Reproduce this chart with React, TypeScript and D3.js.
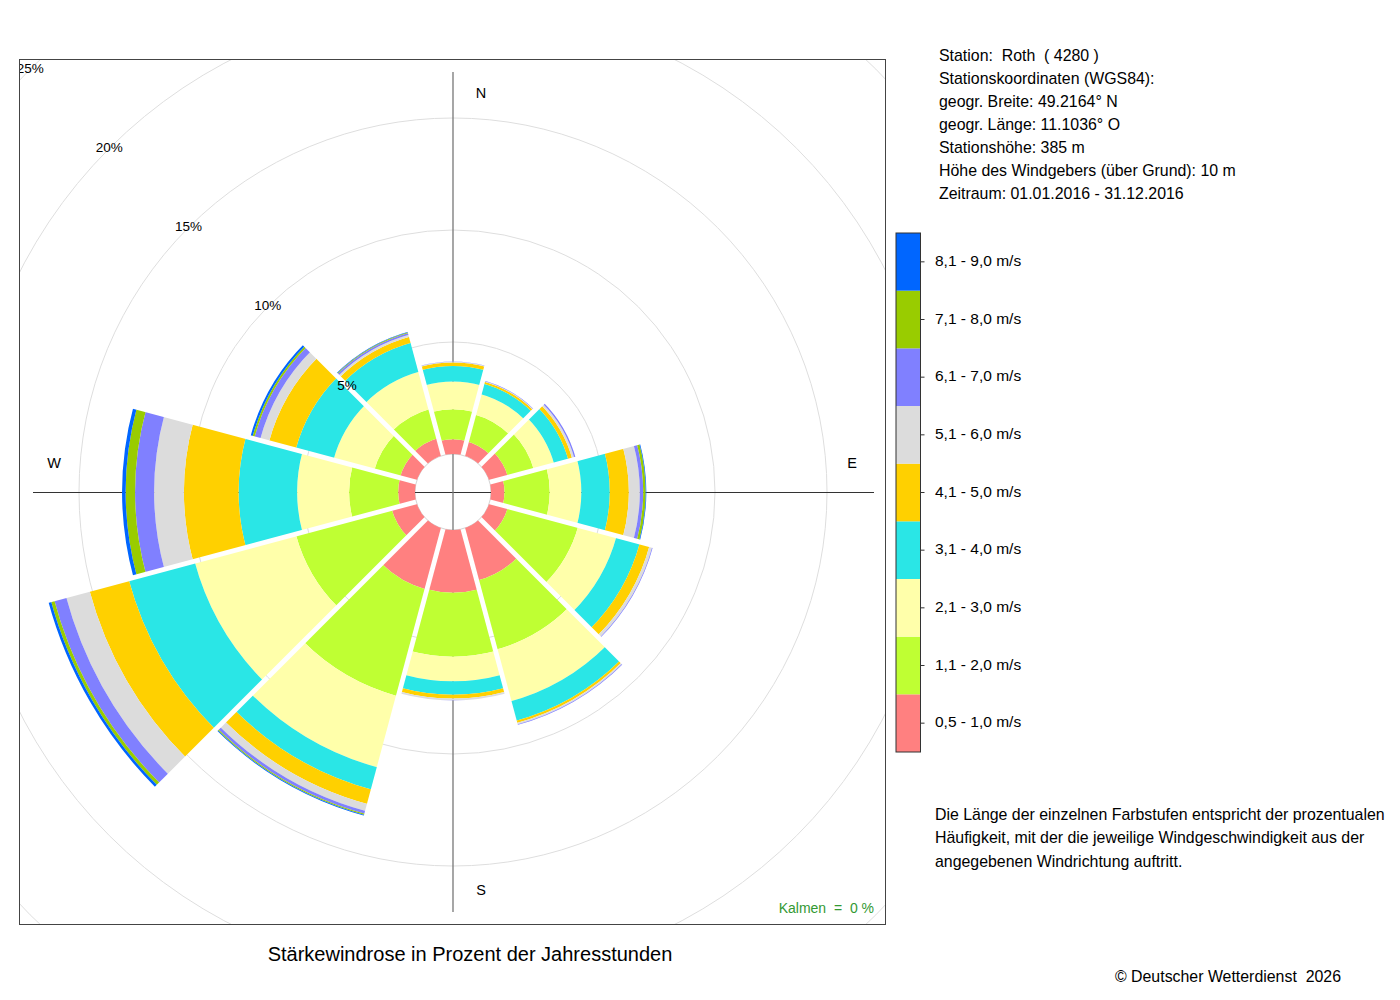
import * as d3 from 'd3'

// wind directions (sector centres, degrees clockwise from north)
const DIRECTIONS = [0, 30, 60, 90, 120, 150, 180, 210, 240, 270, 300, 330]

const SPEED_CLASSES = [
  '0,5 - 1,0 m/s',
  '1,1 - 2,0 m/s',
  '2,1 - 3,0 m/s',
  '3,1 - 4,0 m/s',
  '4,1 - 5,0 m/s',
  '5,1 - 6,0 m/s',
  '6,1 - 7,0 m/s',
  '7,1 - 8,0 m/s',
  '8,1 - 9,0 m/s',
]

const CLASS_COLORS = ['#ff8080', '#bfff33', '#ffffaa', '#2ae6e6', '#ffd000', '#dcdcdc', '#8080ff', '#99cc00', '#0066ff']

// frequency in % of year hours, per speed class, per direction (same order as DIRECTIONS)
const FREQ_05_10 = [0.66, 0.65, 0.85, 0.6, 0.85, 2.41, 2.8, 2.82, 1.15, 0.75, 0.76, 0.8]
const FREQ_11_20 = [1.34, 1.25, 1.2, 2.02, 3.25, 3.19, 2.85, 4.93, 4.42, 2.19, 1.19, 1.35]
const FREQ_21_30 = [1.23, 0.95, 0.94, 1.41, 1.77, 2.4, 1.1, 3.3, 4.68, 2.32, 1.88, 1.73]
const FREQ_31_40 = [0.7, 0.48, 0.66, 1.27, 1.08, 0.9, 0.6, 1.03, 3.05, 2.61, 1.75, 1.34]
const FREQ_41_50 = [0.15, 0.09, 0.18, 0.85, 0.45, 0.1, 0.17, 0.67, 1.82, 2.44, 1.24, 0.28]
const FREQ_51_60 = [0.04, 0.03, 0.1, 0.49, 0.13, 0.07, 0.08, 0.32, 1.08, 1.33, 0.41, 0.1]
const FREQ_61_70 = [0.01, 0.02, 0.06, 0.15, 0.03, 0.03, 0.01, 0.13, 0.55, 0.85, 0.27, 0.08]
const FREQ_71_80 = [0, 0, 0, 0.11, 0, 0, 0, 0.05, 0.15, 0.42, 0.09, 0.03]
const FREQ_81_90 = [0, 0, 0, 0.03, 0, 0, 0, 0.04, 0.12, 0.16, 0.09, 0.02]

const SERIES = [FREQ_05_10, FREQ_11_20, FREQ_21_30, FREQ_31_40, FREQ_41_50, FREQ_51_60, FREQ_61_70, FREQ_71_80, FREQ_81_90]

const RING_TICKS = [5, 10, 15, 20, 25]
const COMPASS = [
  { label: 'N', dx: 28, dy: -398 },
  { label: 'E', dx: 399, dy: -28 },
  { label: 'S', dx: 28, dy: 399 },
  { label: 'W', dx: -399, dy: -28 },
]

const STATION_INFO = [
  'Station:  Roth  ( 4280 )',
  'Stationskoordinaten (WGS84):',
  'geogr. Breite: 49.2164° N',
  'geogr. Länge: 11.1036° O',
  'Stationshöhe: 385 m',
  'Höhe des Windgebers (über Grund): 10 m',
  'Zeitraum: 01.01.2016 - 31.12.2016',
]

const NOTE = [
  'Die Länge der einzelnen Farbstufen entspricht der prozentualen',
  'Häufigkeit, mit der die jeweilige Windgeschwindigkeit aus der',
  'angegebenen Windrichtung auftritt.',
]

const FONT = "'Liberation Sans', Arial, Helvetica, sans-serif"
const CX = 453
const CY = 492
const BOX = { x: 19.5, y: 59.5, w: 866, h: 865 }
const HALF = Math.PI / 12
const GAP = 4.8
const AXIS_LEN = 420

const rScale = d3.scaleLinear().domain([0, 25]).range([38, 598])
const rad = (deg: number) => (deg * Math.PI) / 180

// wedge clip: a triangle whose sides are the sector borders pulled inward by GAP/2
function sectorClip(theta: number) {
  const d = GAP / 2 / Math.sin(HALF)
  const ax = d * Math.sin(theta)
  const ay = -d * Math.cos(theta)
  const L = 900
  const a1 = theta - HALF
  const a2 = theta + HALF
  return `${ax},${ay} ${ax + L * Math.sin(a1)},${ay - L * Math.cos(a1)} ${ax + L * Math.sin(a2)},${ay - L * Math.cos(a2)}`
}

export default function App() {
  const keys = SPEED_CLASSES.map((_, i) => `c${i}`)
  const rows = DIRECTIONS.map((dir, j) => {
    const row: Record<string, number> = { dir }
    SERIES.forEach((s, i) => (row[`c${i}`] = s[j]))
    return row
  })
  const stacked = d3.stack<Record<string, number>>().keys(keys)(rows)
  const arc = d3.arc<any>()

  // legend
  const LEG = { x: 896, y: 233, w: 24.5, h: 519 }
  const legY = d3
    .scaleBand<number>()
    .domain(d3.range(SPEED_CLASSES.length).reverse())
    .range([LEG.y, LEG.y + LEG.h])

  return (
    <svg
      width={1400}
      height={1000}
      style={{ position: 'absolute', left: 0, top: 0, background: '#fff' }}
      fontFamily={FONT}
    >
      <defs>
        <clipPath id="plot-box">
          <rect x={BOX.x} y={BOX.y} width={BOX.w} height={BOX.h} />
        </clipPath>
        {DIRECTIONS.map((dir, j) => (
          <clipPath key={dir} id={`sec-${j}`}>
            <polygon points={sectorClip(rad(dir))} />
          </clipPath>
        ))}
      </defs>

      <g clipPath="url(#plot-box)">
        <g transform={`translate(${CX},${CY})`}>
          {RING_TICKS.map((t) => (
            <circle key={t} r={rScale(t)} fill="none" stroke="#dedede" strokeWidth={1} />
          ))}
          <circle r={rScale(0)} fill="#fff" stroke="#d4d4d4" strokeWidth={1} />
          <line x1={-AXIS_LEN} x2={AXIS_LEN + 1} y1={0.5} y2={0.5} stroke="#333" strokeWidth={1} />
          <line x1={0} x2={0} y1={-AXIS_LEN} y2={AXIS_LEN} stroke="#777" strokeWidth={1.3} />

          {DIRECTIONS.map((dir, j) => (
            <g key={dir} clipPath={`url(#sec-${j})`}>
              {stacked.map((layer, i) => {
                const [lo, hi] = layer[j]
                if (hi - lo <= 0) return null
                return (
                  <path
                    key={i}
                    d={arc({
                      innerRadius: rScale(lo),
                      outerRadius: rScale(hi),
                      startAngle: rad(dir) - HALF,
                      endAngle: rad(dir) + HALF,
                    })!}
                    fill={CLASS_COLORS[i]}
                  />
                )
              })}
            </g>
          ))}

          {RING_TICKS.map((t) => {
            const rr = rScale(t) * Math.SQRT1_2
            return (
              <text key={t} x={-rr} y={-rr} fontSize={13.5} textAnchor="middle" dominantBaseline="middle" fill="#000">
                {t}%
              </text>
            )
          })}

          {COMPASS.map((c) => (
            <text key={c.label} x={c.dx} y={c.dy} fontSize={14.5} textAnchor="middle" dominantBaseline="middle" fill="#000">
              {c.label}
            </text>
          ))}
        </g>
      </g>

      <rect x={BOX.x} y={BOX.y} width={BOX.w} height={BOX.h} fill="none" stroke="#444" strokeWidth={1} />

      <text x={874} y={913} fontSize={14} textAnchor="end" fill="#339933" style={{ whiteSpace: 'pre' }}>
        {'Kalmen  =  0 %'}
      </text>

      <text x={470} y={961} fontSize={20} textAnchor="middle" fill="#000">
        Stärkewindrose in Prozent der Jahresstunden
      </text>

      {STATION_INFO.map((line, i) => (
        <text key={i} x={939} y={60.5 + i * 23.1} fontSize={15.9} fill="#000" style={{ whiteSpace: 'pre' }}>
          {line}
        </text>
      ))}

      {SPEED_CLASSES.map((label, i) => {
        const y0 = legY(i)!
        const yc = y0 + legY.bandwidth() / 2
        return (
          <g key={label}>
            <rect x={LEG.x} y={y0} width={LEG.w} height={legY.bandwidth()} fill={CLASS_COLORS[i]} />
            <line x1={LEG.x + LEG.w} x2={LEG.x + LEG.w + 4} y1={yc} y2={yc} stroke="#333" />
            <text x={935} y={yc} fontSize={15.5} dominantBaseline="middle" fill="#000">
              {label}
            </text>
          </g>
        )
      })}
      <rect x={LEG.x} y={LEG.y} width={LEG.w} height={LEG.h} fill="none" stroke="#333" strokeWidth={1} />

      {NOTE.map((line, i) => (
        <text key={i} x={935} y={820 + i * 23.3} fontSize={15.9} fill="#000">
          {line}
        </text>
      ))}

      <text x={1341} y={982} fontSize={15.9} textAnchor="end" fill="#000" style={{ whiteSpace: 'pre' }}>
        {'© Deutscher Wetterdienst  2026'}
      </text>
    </svg>
  )
}
